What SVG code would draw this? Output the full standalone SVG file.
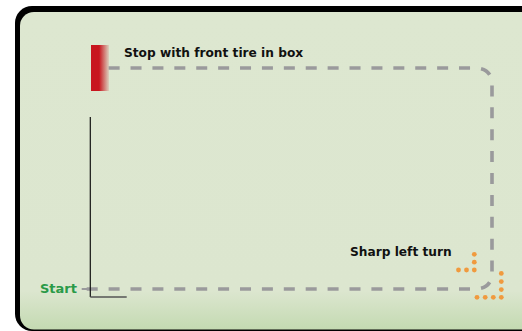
<svg xmlns="http://www.w3.org/2000/svg" width="522" height="331" viewBox="0 0 522 331">
<defs>
<linearGradient id="bg" gradientUnits="userSpaceOnUse" x1="0" y1="12" x2="0" y2="329">
<stop offset="0" stop-color="#dde7d0"/>
<stop offset="0.88" stop-color="#dce6cf"/>
<stop offset="1" stop-color="#c4dab2"/>
</linearGradient>
<linearGradient id="red" x1="0" y1="0" x2="1" y2="0">
<stop offset="0" stop-color="#c8161e"/>
<stop offset="0.45" stop-color="#c8161e"/>
<stop offset="1" stop-color="#c8161e" stop-opacity="0.1"/>
</linearGradient>
<style>
.lbl{font-family:"DejaVu Sans",sans-serif;font-weight:bold;font-size:12.2px;fill:#111}
.start{font-family:"DejaVu Sans",sans-serif;font-weight:bold;font-size:13px;fill:#2a9a48}
.track{fill:none;stroke:#9a9a9c;stroke-width:3.6;stroke-dasharray:11 10.9}
.dot{fill:#f09a3e}
</style>
</defs>
<g id="frame">
<rect x="15" y="6" width="620" height="325" rx="17" fill="#000"/>
<rect x="20" y="12" width="620" height="317.5" rx="14" fill="url(#bg)"/>
</g>
<g id="stop-box">
<rect x="91" y="45" width="18" height="46" fill="url(#red)"/>
<text class="lbl" x="124" y="56.5">Stop with front tire in box</text>
</g>
<g id="start">
<text class="start" x="40" y="292.7">Start</text>
</g>
<g id="sharp-turn">
<text class="lbl" x="350" y="256">Sharp left turn</text>
<g class="dot">
<circle cx="458.5" cy="270" r="2.4"/>
<circle cx="466.5" cy="270" r="2.4"/>
<circle cx="474.3" cy="270" r="2.4"/>
<circle cx="474.3" cy="262.2" r="2.4"/>
<circle cx="474.3" cy="254.3" r="2.4"/>
<circle cx="477" cy="297.3" r="2.4"/>
<circle cx="485.2" cy="297.3" r="2.4"/>
<circle cx="493.3" cy="297.3" r="2.4"/>
<circle cx="501.3" cy="297.3" r="2.4"/>
<circle cx="501.3" cy="289.6" r="2.4"/>
<circle cx="501.3" cy="281.6" r="2.4"/>
<circle cx="501.3" cy="273.4" r="2.4"/>
</g>
</g>
<g id="connectors">
<line x1="81.7" y1="289" x2="88" y2="289" stroke="#9a9a9c" stroke-width="2"/>
<path class="track" d="M 86.7 289 H 475 Q 492 289 492 272 V 85 Q 492 68 475 68 H 100.5"/>
<path d="M 90.3 117 V 297" fill="none" stroke="#111" stroke-width="1.2"/>
<path d="M 90.3 297 H 126.7" fill="none" stroke="#555" stroke-width="1.4"/>
</g>
</svg>
